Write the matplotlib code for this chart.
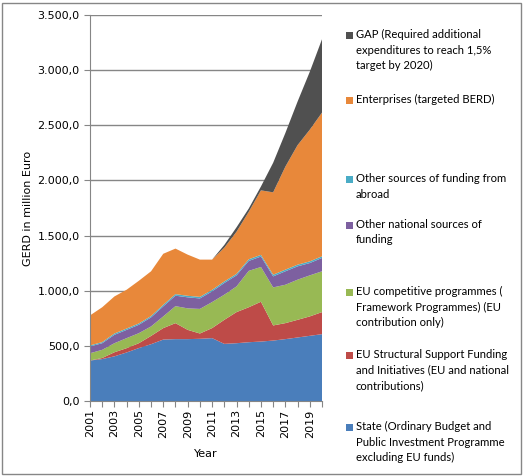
import matplotlib
matplotlib.use("Agg")
import matplotlib.pyplot as plt
import numpy as np
from matplotlib.patches import Rectangle
from matplotlib.ticker import FuncFormatter, MultipleLocator

years = list(range(2001, 2021))

state = [367, 380, 405, 440, 480, 515, 557, 561, 561, 564, 570, 518, 524, 533, 539, 548, 561, 576, 591, 606]
eu_structural = [0, 10, 37, 39, 44, 75, 104, 145, 84, 48, 91, 218, 282, 317, 361, 137, 145, 160, 176, 200]
eu_competitive = [66, 74, 82, 91, 91, 86, 106, 154, 195, 223, 236, 228, 233, 330, 315, 345, 348, 364, 372, 370]
other_national = [61, 60, 76, 75, 76, 82, 91, 95, 100, 95, 97, 106, 100, 90, 95, 100, 122, 121, 112, 121]
other_abroad = [10, 10, 12, 12, 12, 12, 14, 14, 14, 14, 14, 14, 14, 15, 15, 15, 15, 15, 15, 15]
enterprises = [272, 316, 336, 352, 387, 406, 463, 413, 373, 338, 274, 306, 382, 430, 585, 747, 934, 1084, 1194, 1303]
gap = [0, 0, 0, 0, 0, 0, 0, 0, 0, 0, 0, 25, 40, 30, 35, 268, 305, 395, 525, 665]

series = [state, eu_structural, eu_competitive, other_national, other_abroad, enterprises, gap]
labels = [
    "State (Ordinary Budget and\nPublic Investment Programme\nexcluding EU funds)",
    "EU Structural Support Funding\nand Initiatives (EU and national\ncontributions)",
    "EU competitive programmes (\nFramework Programmes) (EU\ncontribution only)",
    "Other national sources of\nfunding",
    "Other sources of funding from\nabroad",
    "Enterprises (targeted BERD)",
    "GAP (Required additional\nexpenditures to reach 1,5%\ntarget by 2020)",
]
colors = ["#4A7EBB", "#BE4B48", "#98B954", "#7D60A0", "#4AACC6", "#E8883A", "#505050"]

fig = plt.figure(figsize=(5.24, 4.76), dpi=100)
ax = fig.add_axes([90 / 524, 1 - 401 / 476, 232 / 524, 386 / 476])

ax.stackplot(years, *series, colors=colors, linewidth=0)

ax.set_xlim(2001, 2020)
ax.set_ylim(0, 3500)
ax.yaxis.set_major_locator(MultipleLocator(500))

def fmt(v, pos):
    s = f"{v:,.1f}"
    return s.replace(",", "X").replace(".", ",").replace("X", ".")

ax.yaxis.set_major_formatter(FuncFormatter(fmt))
ax.set_xticks(years)
ax.set_xticklabels([str(y) if (y - 2001) % 2 == 0 else "" for y in years], rotation=90)

ax.grid(axis="y", color="#868686", linewidth=1.0)
ax.set_axisbelow(True)
for s in ["top", "right"]:
    ax.spines[s].set_visible(False)
for s in ["left", "bottom"]:
    ax.spines[s].set_color("#868686")
ax.tick_params(axis="both", colors="#868686", labelcolor="black", labelsize=8, length=4, direction="out")
ax.tick_params(axis="x", pad=2)

ax.set_ylabel("GERD in million Euro", fontsize=8, labelpad=3)
ax.set_xlabel("Year", fontsize=8, labelpad=8)

# legend (manual placement)
legend_y = [35, 100, 179, 225, 292, 355, 427]
order = [6, 5, 4, 3, 2, 1, 0]
for yy, idx in zip(legend_y, order):
    fig.patches.append(Rectangle((346 / 524, 1 - (yy + 4) / 476), 7 / 524, 7 / 476,
                                 transform=fig.transFigure, facecolor=colors[idx],
                                 edgecolor="none"))
    fig.text(356 / 524, 1 - (yy - 6) / 476, labels[idx], fontsize=8.1, family="Lato",
             va="top", ha="left", linespacing=1.5)

fig.patches.append(Rectangle((2 / 524, 2 / 476), 519 / 524, 471 / 476, transform=fig.transFigure,
                             facecolor="none", edgecolor="#868686", linewidth=1))

fig.savefig("out.png", dpi=100)
